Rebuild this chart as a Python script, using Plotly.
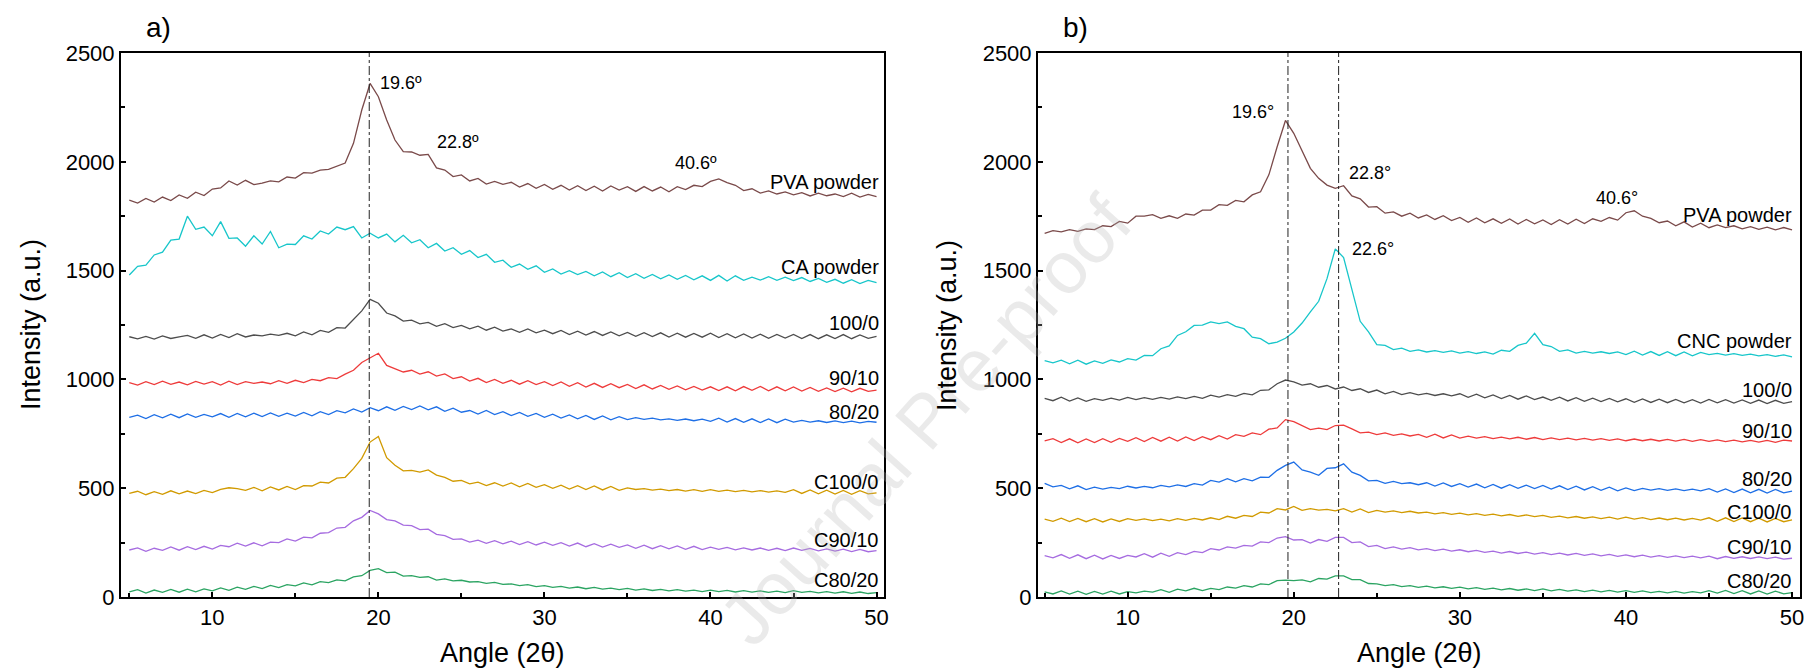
import plotly.graph_objects as go

# ---------------- data ----------------
ANGLE = [5.0, 5.5, 6.0, 6.5, 7.0, 7.5, 8.0, 8.5, 9.0, 9.5,
         10.0, 10.5, 11.0, 11.5, 12.0, 12.5, 13.0, 13.5, 14.0, 14.5,
         15.0, 15.5, 16.0, 16.5, 17.0, 17.5, 18.0, 18.5, 19.0, 19.5,
         20.0, 20.5, 21.0, 21.5, 22.0, 22.5, 23.0, 23.5, 24.0, 24.5,
         25.0, 25.5, 26.0, 26.5, 27.0, 27.5, 28.0, 28.5, 29.0, 29.5,
         30.0, 30.5, 31.0, 31.5, 32.0, 32.5, 33.0, 33.5, 34.0, 34.5,
         35.0, 35.5, 36.0, 36.5, 37.0, 37.5, 38.0, 38.5, 39.0, 39.5,
         40.0, 40.5, 41.0, 41.5, 42.0, 42.5, 43.0, 43.5, 44.0, 44.5,
         45.0, 45.5, 46.0, 46.5, 47.0, 47.5, 48.0, 48.5, 49.0, 49.5,
         50.0]

# Panel a)
A_PVA = [1824, 1810, 1832, 1815, 1838, 1822, 1848, 1832, 1860, 1845,
         1875, 1880, 1912, 1893, 1915, 1895, 1902, 1912, 1908, 1930,
         1925, 1950, 1948, 1962, 1965, 1978, 1994, 2085, 2238, 2360,
         2299, 2192, 2100, 2047, 2045, 2030, 2034, 1972, 1962, 1932,
         1940, 1912, 1924, 1898, 1910, 1896, 1906, 1884, 1900, 1878,
         1896, 1874, 1892, 1870, 1890, 1868, 1888, 1866, 1889, 1870,
         1886, 1864, 1886, 1866, 1884, 1862, 1886, 1872, 1892, 1886,
         1910, 1921, 1904, 1892, 1868, 1876, 1856, 1866, 1852, 1862,
         1848, 1858, 1843, 1856, 1844, 1852, 1840, 1856, 1838, 1850,
         1840]
A_CA = [1480, 1520, 1525, 1572, 1585, 1640, 1645, 1750, 1690, 1700,
        1660, 1725, 1648, 1650, 1612, 1660, 1622, 1680, 1605, 1622,
        1620, 1660, 1645, 1682, 1668, 1700, 1688, 1702, 1650, 1672,
        1650, 1668, 1632, 1662, 1628, 1642, 1605, 1625, 1590, 1605,
        1575, 1592, 1560, 1575, 1538, 1548, 1515, 1530, 1506, 1522,
        1492, 1508, 1484, 1500, 1482, 1496, 1476, 1494, 1472, 1490,
        1468, 1486, 1465, 1482, 1462, 1480, 1460, 1478, 1458, 1476,
        1455, 1478, 1452, 1476, 1455, 1470, 1456, 1472, 1455, 1470,
        1454, 1468, 1450, 1464, 1446, 1460, 1442, 1458, 1440, 1455,
        1445]
A_100_0 = [1196, 1186, 1198, 1185, 1200, 1188, 1195, 1202, 1189, 1205,
           1190, 1207, 1192, 1210, 1195, 1204, 1200, 1208, 1202, 1212,
           1200, 1218, 1205, 1225, 1216, 1238, 1236, 1275, 1315, 1368,
           1350, 1305, 1292, 1268, 1272, 1255, 1262, 1244, 1256, 1238,
           1248, 1232, 1245, 1226, 1240, 1222, 1232, 1216, 1232, 1214,
           1226, 1210, 1225, 1206, 1222, 1204, 1220, 1202, 1218, 1200,
           1216, 1198, 1215, 1197, 1214, 1195, 1212, 1194, 1211, 1194,
           1212, 1192, 1210, 1191, 1209, 1190, 1208, 1189, 1207, 1190,
           1207, 1188, 1206, 1187, 1205, 1188, 1206, 1187, 1204, 1189,
           1198]
A_90_10 = [985, 974, 990, 976, 992, 977, 988, 975, 991, 978,
           990, 974, 992, 976, 990, 982, 988, 980, 994, 982,
           996, 985, 1000, 994, 1008, 1004, 1024, 1042, 1078, 1100,
           1120, 1064, 1048, 1034, 1042, 1024, 1035, 1015, 1025, 1004,
           1012, 992, 1005, 985, 1000, 982, 996, 978, 994, 976,
           990, 972, 988, 968, 985, 965, 982, 963, 980, 962,
           977, 958, 975, 956, 972, 954, 970, 952, 968, 951,
           966, 949, 966, 948, 967, 950, 968, 948, 966, 948,
           965, 946, 963, 945, 961, 944, 960, 943, 959, 945,
           951]
A_80_20 = [826, 836, 820, 838, 823, 840, 824, 841, 826, 839,
           828, 843, 826, 844, 828, 845, 829, 846, 830, 845,
           831, 848, 833, 852, 838, 856, 846, 864, 850, 870,
           856, 874, 858, 876, 861, 878, 860, 874, 853, 868,
           849, 857, 841, 857, 838, 852, 834, 848, 830, 844,
           826, 840, 822, 837, 819, 834, 816, 832, 814, 829,
           815, 824, 816, 822, 814, 819, 812, 818, 810, 817,
           807, 822, 804, 820, 803, 819, 802, 818, 801, 817,
           804, 812, 804, 810, 802, 809, 801, 808, 800, 807,
           803]
A_C100_0 = [476, 486, 470, 484, 472, 488, 474, 487, 475, 490,
            480, 495, 502, 498, 490, 504, 488, 506, 492, 508,
            494, 512, 510, 528, 524, 546, 550, 590, 637, 712,
            738, 640, 605, 580, 582, 574, 584, 560, 550, 532,
            536, 520, 528, 512, 525, 510, 524, 506, 522, 504,
            516, 499, 514, 496, 512, 494, 510, 492, 508, 490,
            501, 494, 498, 491, 496, 489, 494, 487, 493, 485,
            493, 485, 491, 484, 490, 483, 489, 482, 488, 481,
            493, 476, 492, 474, 491, 473, 490, 472, 489, 474,
            479]
A_C90_10 = [216, 226, 210, 224, 214, 230, 215, 231, 218, 233,
            220, 237, 231, 247, 234, 249, 235, 252, 250, 267,
            257, 275, 272, 293, 296, 317, 320, 350, 366, 398,
            382, 356, 350, 330, 328, 310, 312, 288, 282, 265,
            267, 252, 261, 247, 259, 244, 257, 241, 254, 239,
            252, 237, 250, 234, 248, 231, 245, 229, 243, 228,
            239, 224, 238, 222, 236, 221, 235, 219, 233, 218,
            229, 219, 228, 217, 226, 216, 225, 214, 224, 213,
            225, 214, 223, 212, 221, 211, 220, 209, 219, 208,
            213]
A_C80_20 = [24, 34, 18, 32, 21, 35, 22, 36, 24, 37,
            28, 42, 31, 45, 35, 49, 39, 53, 43, 57,
            51, 65, 56, 71, 66, 79, 74, 92, 98, 122,
            130, 112, 114, 96, 98, 90, 93, 78, 83, 74,
            77, 69, 71, 63, 67, 58, 60, 52, 57, 48,
            52, 44, 49, 41, 46, 38, 44, 36, 41, 34,
            40, 32, 37, 30, 35, 28, 34, 27, 32, 25,
            32, 25, 30, 23, 29, 22, 28, 21, 27, 20,
            29, 21, 26, 19, 25, 18, 24, 17, 23, 16,
            20]

# Panel b)
B_PVA = [1671, 1684, 1678, 1688, 1680, 1692, 1688, 1706, 1702, 1726,
         1718, 1750, 1750, 1757, 1740, 1752, 1740, 1760, 1755, 1778,
         1778, 1803, 1800, 1823, 1816, 1848, 1862, 1940, 2069, 2190,
         2131, 2054, 1970, 1924, 1893, 1878, 1890, 1843, 1830, 1792,
         1794, 1764, 1770, 1750, 1764, 1742, 1756, 1735, 1752, 1730,
         1744, 1722, 1742, 1720, 1738, 1717, 1737, 1714, 1735, 1715,
         1733, 1712, 1734, 1714, 1736, 1716, 1738, 1726, 1744, 1732,
         1766, 1775, 1750, 1740, 1720, 1728, 1706, 1724, 1700, 1718,
         1697, 1710, 1698, 1706, 1692, 1702, 1690, 1700, 1687, 1698,
         1687]
B_CNC = [1086, 1076, 1088, 1072, 1088, 1070, 1085, 1074, 1090, 1080,
         1095, 1089, 1110, 1109, 1141, 1154, 1202, 1219, 1248, 1249,
         1264, 1256, 1264, 1244, 1233, 1194, 1187, 1164, 1171, 1189,
         1218, 1259, 1310, 1359, 1463, 1600, 1560, 1417, 1267, 1218,
         1160, 1156, 1137, 1144, 1129, 1136, 1126, 1132, 1124, 1131,
         1121, 1128, 1119, 1126, 1116, 1134, 1129, 1156, 1167, 1212,
         1160, 1151, 1129, 1136, 1121, 1129, 1121, 1127, 1119, 1126,
         1114, 1130, 1112, 1128, 1110, 1127, 1109, 1126, 1108, 1124,
         1114, 1120, 1112, 1118, 1110, 1116, 1108, 1114, 1106, 1113,
         1104]
B_100_0 = [913, 902, 918, 900, 915, 899, 912, 904, 914, 905,
           917, 907, 916, 908, 917, 909, 920, 912, 922, 913,
           928, 919, 930, 922, 936, 929, 950, 952, 980, 997,
           989, 974, 980, 964, 972, 956, 965, 949, 957, 940,
           951, 934, 945, 930, 939, 929, 936, 926, 934, 924,
           934, 918, 932, 915, 929, 912, 926, 909, 924, 907,
           919, 904, 918, 901, 916, 899, 914, 898, 913, 897,
           911, 895, 910, 894, 909, 893, 908, 892, 907, 891,
           908, 892, 907, 891, 906, 890, 905, 889, 904, 890,
           898]
B_90_10 = [717, 728, 710, 727, 709, 726, 710, 728, 711, 729,
           715, 732, 714, 733, 716, 734, 717, 736, 719, 737,
           723, 741, 726, 746, 738, 754, 746, 771, 777, 815,
           806, 789, 769, 776, 769, 788, 790, 773, 754, 758,
           746, 754, 743, 750, 740, 747, 734, 748, 731, 745,
           730, 739, 730, 737, 728, 735, 727, 734, 725, 733,
           723, 731, 723, 730, 722, 729, 721, 728, 720, 727,
           718, 726, 718, 725, 717, 724, 716, 724, 715, 723,
           715, 722, 714, 721, 713, 720, 712, 720, 711, 721,
           717]
B_80_20 = [522, 506, 513, 497, 511, 494, 505, 496, 504, 498,
           509, 501, 508, 502, 513, 506, 515, 508, 521, 514,
           536, 528, 544, 529, 544, 534, 551, 550, 582, 605,
           620, 584, 574, 559, 591, 594, 612, 574, 559, 534,
           536, 522, 531, 521, 525, 516, 525, 510, 524, 508,
           521, 505, 519, 502, 517, 500, 516, 499, 514, 498,
           513, 496, 511, 494, 509, 492, 507, 490, 505, 488,
           501, 489, 499, 491, 498, 490, 497, 489, 496, 488,
           498, 482, 497, 480, 496, 479, 495, 478, 494, 479,
           487]
B_C100_0 = [358, 348, 362, 347, 361, 346, 360, 345, 359, 347,
            360, 352, 359, 351, 358, 350, 360, 352, 361, 354,
            364, 356, 371, 362, 375, 370, 390, 386, 406, 400,
            416, 398, 406, 399, 403, 396, 406, 390, 405, 388,
            398, 390, 396, 388, 394, 386, 390, 382, 388, 380,
            385, 377, 383, 375, 381, 373, 379, 371, 377, 369,
            375, 366, 372, 364, 370, 362, 368, 360, 367, 358,
            367, 358, 365, 356, 363, 355, 362, 354, 361, 353,
            364, 348, 364, 347, 363, 346, 362, 345, 361, 346,
            354]
B_C90_10 = [190, 180, 195, 178, 194, 176, 192, 175, 191, 177,
            191, 184, 199, 183, 201, 187, 204, 195, 210, 204,
            222, 216, 230, 225, 237, 234, 253, 250, 271, 277,
            262, 264, 248, 264, 256, 274, 274, 250, 253, 232,
            237, 222, 230, 220, 227, 217, 222, 213, 220, 211,
            217, 208, 214, 205, 211, 202, 209, 200, 206, 197,
            204, 195, 202, 193, 200, 191, 198, 189, 196, 187,
            194, 185, 192, 183, 190, 182, 189, 181, 188, 180,
            188, 176, 186, 178, 185, 177, 184, 176, 183, 174,
            178]
B_C80_20 = [24, 14, 28, 13, 27, 12, 26, 13, 27, 14,
            25, 19, 27, 22, 34, 21, 36, 28, 40, 29,
            40, 34, 46, 41, 52, 46, 60, 57, 75, 78,
            75, 79, 70, 85, 82, 97, 97, 80, 80, 62,
            60, 52, 57, 48, 52, 44, 50, 42, 47, 40,
            45, 37, 43, 35, 41, 33, 39, 31, 37, 29,
            37, 28, 35, 27, 33, 25, 32, 24, 30, 22,
            29, 21, 28, 20, 26, 19, 26, 18, 25, 19,
            29, 18, 30, 16, 29, 14, 28, 13, 27, 14,
            20]

A_LABELS = ["PVA powder", "CA powder", "100/0", "90/10", "80/20", "C100/0", "C90/10", "C80/20"]
B_LABELS = ["PVA powder", "CNC powder", "100/0", "90/10", "80/20", "C100/0", "C90/10", "C80/20"]
A_SERIES = [A_PVA, A_CA, A_100_0, A_90_10, A_80_20, A_C100_0, A_C90_10, A_C80_20]
B_SERIES = [B_PVA, B_CNC, B_100_0, B_90_10, B_80_20, B_C100_0, B_C90_10, B_C80_20]
# label positions (y in data units)
A_LABEL_Y = [1908, 1517, 1258, 1006, 851, 528, 262, 78]
B_LABEL_Y = [1755, 1178, 951, 764, 542, 392, 231, 75]

COLORS = ["#7A4A4A", "#17C6CA", "#4D4D4D", "#EE3B3B", "#1E6FE6", "#D19A00", "#A66CE0", "#2BA462"]

A_VLINES = [19.45]
B_VLINES = [19.65, 22.7]
A_PEAKS = [(20.0, 2362, "19.6º", "left"), (23.4, 2092, "22.8º", "left"), (37.75, 1994, "40.6º", "left")]
B_PEAKS = [(18.9, 2229, "19.6°", "right"), (23.2, 1947, "22.8°", "left"),
           (38.1, 1835, "40.6°", "left"), (23.4, 1598, "22.6°", "left")]

FONT = "Liberation Sans, Arial, sans-serif"
W, H = 1811, 670

fig = go.Figure()

for series, name, col in zip(A_SERIES, A_LABELS, COLORS):
    fig.add_trace(go.Scatter(x=ANGLE, y=series, mode="lines", name=name,
                             line=dict(color=col, width=1.3), xaxis="x", yaxis="y",
                             showlegend=False))
for series, name, col in zip(B_SERIES, B_LABELS, COLORS):
    fig.add_trace(go.Scatter(x=ANGLE, y=series, mode="lines", name=name,
                             line=dict(color=col, width=1.3), xaxis="x2", yaxis="y2",
                             showlegend=False))

# vertical dash-dot reference lines
for v in A_VLINES:
    fig.add_shape(type="line", xref="x", yref="y domain", x0=v, x1=v, y0=0, y1=1,
                  line=dict(color="#222222", width=1, dash="dashdot"))
for v in B_VLINES:
    fig.add_shape(type="line", xref="x2", yref="y2 domain", x0=v, x1=v, y0=0, y1=1,
                  line=dict(color="#222222", width=1, dash="dashdot"))

ann = []
# watermark (drawn first, beneath other annotations)
ann.append(dict(x=925 / W, y=1 - 420 / H, xref="paper", yref="paper", text="Journal Pre-proof",
                showarrow=False, xanchor="center", yanchor="middle", textangle=-48,
                font=dict(size=74, color="rgba(180,180,180,0.28)", family=FONT)))
for name, yv in zip(A_LABELS, A_LABEL_Y):
    ann.append(dict(x=50.27, y=yv, xref="x", yref="y", text=name, showarrow=False,
                    xanchor="right", yanchor="middle", font=dict(size=20, color="black", family=FONT)))
for name, yv in zip(B_LABELS, B_LABEL_Y):
    ann.append(dict(x=50.1, y=yv, xref="x2", yref="y2", text=name, showarrow=False,
                    xanchor="right", yanchor="middle", font=dict(size=20, color="black", family=FONT)))
for xv, yv, t, anc in A_PEAKS:
    ann.append(dict(x=xv, y=yv, xref="x", yref="y", text=t, showarrow=False,
                    xanchor=anc, yanchor="middle", font=dict(size=18, color="black", family=FONT)))
for xv, yv, t, anc in B_PEAKS:
    ann.append(dict(x=xv, y=yv, xref="x2", yref="y2", text=t, showarrow=False,
                    xanchor=anc, yanchor="middle", font=dict(size=18, color="black", family=FONT)))

# panel letters
ann.append(dict(x=158 / W, y=1 - 28 / H, xref="paper", yref="paper", text="a)", showarrow=False,
                xanchor="center", yanchor="middle", font=dict(size=28, color="black", family=FONT)))
ann.append(dict(x=1075 / W, y=1 - 28 / H, xref="paper", yref="paper", text="b)", showarrow=False,
                xanchor="center", yanchor="middle", font=dict(size=28, color="black", family=FONT)))

# axis titles
for cx in (502.5, 1419):
    ann.append(dict(x=cx / W, y=1 - 653 / H, xref="paper", yref="paper", text="Angle (2θ)",
                    showarrow=False, xanchor="center", yanchor="middle",
                    font=dict(size=27, color="black", family=FONT)))
for cx in (31, 947):
    ann.append(dict(x=cx / W, y=1 - 325 / H, xref="paper", yref="paper", text="Intensity (a.u.)",
                    showarrow=False, xanchor="center", yanchor="middle", textangle=-90,
                    font=dict(size=27, color="black", family=FONT)))

axis_common = dict(showgrid=False, zeroline=False, showline=True, linecolor="black", linewidth=2,
                   mirror=True, ticks="inside", ticklen=5, tickwidth=1.5, tickcolor="black",
                   automargin=False, ticklabeloverflow="allow",
                   tickfont=dict(size=22, color="black", family=FONT))

fig.update_layout(
    width=W, height=H,
    margin=dict(l=0, r=0, t=0, b=0, pad=0),
    paper_bgcolor="white", plot_bgcolor="white",
    showlegend=False,
    annotations=ann,
    xaxis=dict(domain=[121 / W, 884 / W], range=[4.5, 50.45], tickvals=[10, 20, 30, 40, 50],
               minor=dict(tickvals=[5, 15, 25, 35, 45], ticks="inside", ticklen=4, tickcolor="black"),
               anchor="y", **axis_common),
    yaxis=dict(domain=[1 - 597 / H, 1 - 53 / H], range=[0, 2500], tickvals=[0, 500, 1000, 1500, 2000, 2500],
               minor=dict(tickvals=[250, 750, 1250, 1750, 2250], ticks="inside", ticklen=4, tickcolor="black"),
               anchor="x", **axis_common),
    xaxis2=dict(domain=[1038 / W, 1800 / W], range=[4.6, 50.48], tickvals=[10, 20, 30, 40, 50],
                minor=dict(tickvals=[5, 15, 25, 35, 45], ticks="inside", ticklen=4, tickcolor="black"),
                anchor="y2", **axis_common),
    yaxis2=dict(domain=[1 - 597 / H, 1 - 53 / H], range=[0, 2500], tickvals=[0, 500, 1000, 1500, 2000, 2500],
                minor=dict(tickvals=[250, 750, 1250, 1750, 2250], ticks="inside", ticklen=4, tickcolor="black"),
                anchor="x2", **axis_common),
)

fig.write_html("out.html",
               config={"displayModeBar": False},
               post_script="document.body.style.margin='0';document.body.style.padding='0';"
                           "document.body.style.overflow='hidden';")
